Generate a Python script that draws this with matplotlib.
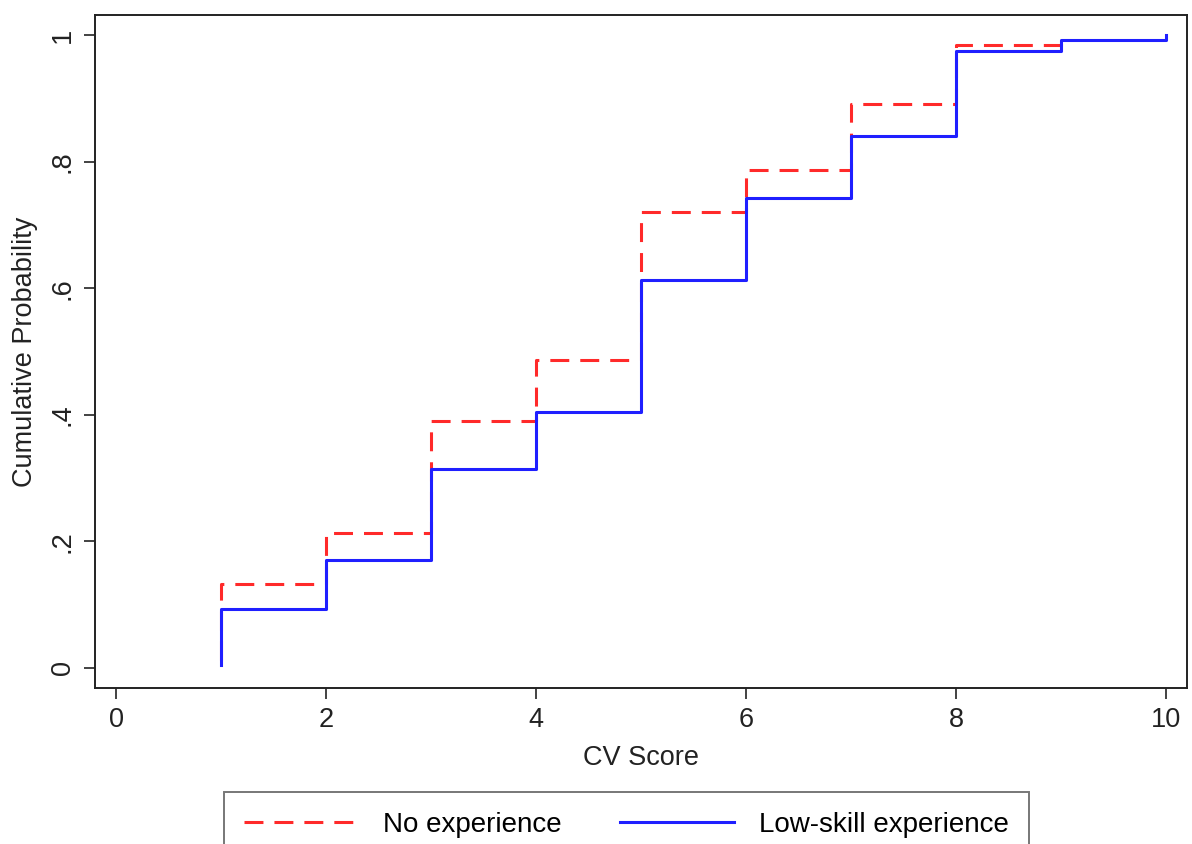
import matplotlib
matplotlib.use('Agg')
import matplotlib.pyplot as plt

plt.rcParams['font.family'] = ['Liberation Sans', 'DejaVu Sans']

# CV score steps and cumulative probability at each score
scores_none = [1, 1, 2, 3, 4, 5, 6, 7, 8, 9]
cdf_none = [0.013, 0.133, 0.213, 0.390, 0.487, 0.720, 0.787, 0.891, 0.985, 1.0]

scores_low = [1, 1, 2, 3, 4, 5, 6, 7, 8, 9, 10]
cdf_low = [0.005, 0.093, 0.171, 0.315, 0.405, 0.613, 0.742, 0.840, 0.975, 0.993, 1.0]

xticks = [0, 2, 4, 6, 8, 10]
yticks = [0, 0.2, 0.4, 0.6, 0.8, 1.0]
ytick_labels = ['0', '.2', '.4', '.6', '.8', '1']


def main():
    fig = plt.figure(figsize=(11.92, 8.44), dpi=100)
    ax = fig.add_axes([0.0797, 0.1848, 0.9161, 0.7974])

    ax.plot(scores_none, cdf_none, drawstyle='steps-post', color='#ff2a2a',
            lw=2.2, dashes=(6.2, 3.6), label='No experience')
    ax.plot(scores_low, cdf_low, drawstyle='steps-post', color='#1f1fff',
            lw=2.2, label='Low-skill experience')

    ax.set_xlim(-0.2, 10.2)
    ax.set_ylim(-0.032, 1.032)
    ax.set_xticks(xticks)
    ax.set_xticklabels([str(t) for t in xticks])
    ax.set_yticks(yticks)
    ax.set_yticklabels(ytick_labels, rotation=90, va='center')
    ax.tick_params(axis='both', direction='out', length=8, width=1.2,
                   labelsize=19.5, colors='#222222', pad=6)
    for s in ax.spines.values():
        s.set_linewidth(1.4)
        s.set_color('#222222')

    ax.set_xlabel('CV Score', fontsize=19.5, color='#222222', labelpad=8)
    ax.set_ylabel('Cumulative Probability', fontsize=19.5, color='#222222', labelpad=8)

    leg = fig.legend(loc='upper center', bbox_to_anchor=(0.5256, 0.0616),
                     ncol=2, fontsize=20, frameon=True, fancybox=False,
                     borderaxespad=0, handlelength=4.1, columnspacing=2.1,
                     borderpad=0.72, handletextpad=0.9)
    leg.get_frame().set_edgecolor('#555555')
    leg.get_frame().set_linewidth(1.4)

    fig.savefig('out.png', dpi=100)


if __name__ == '__main__':
    main()
